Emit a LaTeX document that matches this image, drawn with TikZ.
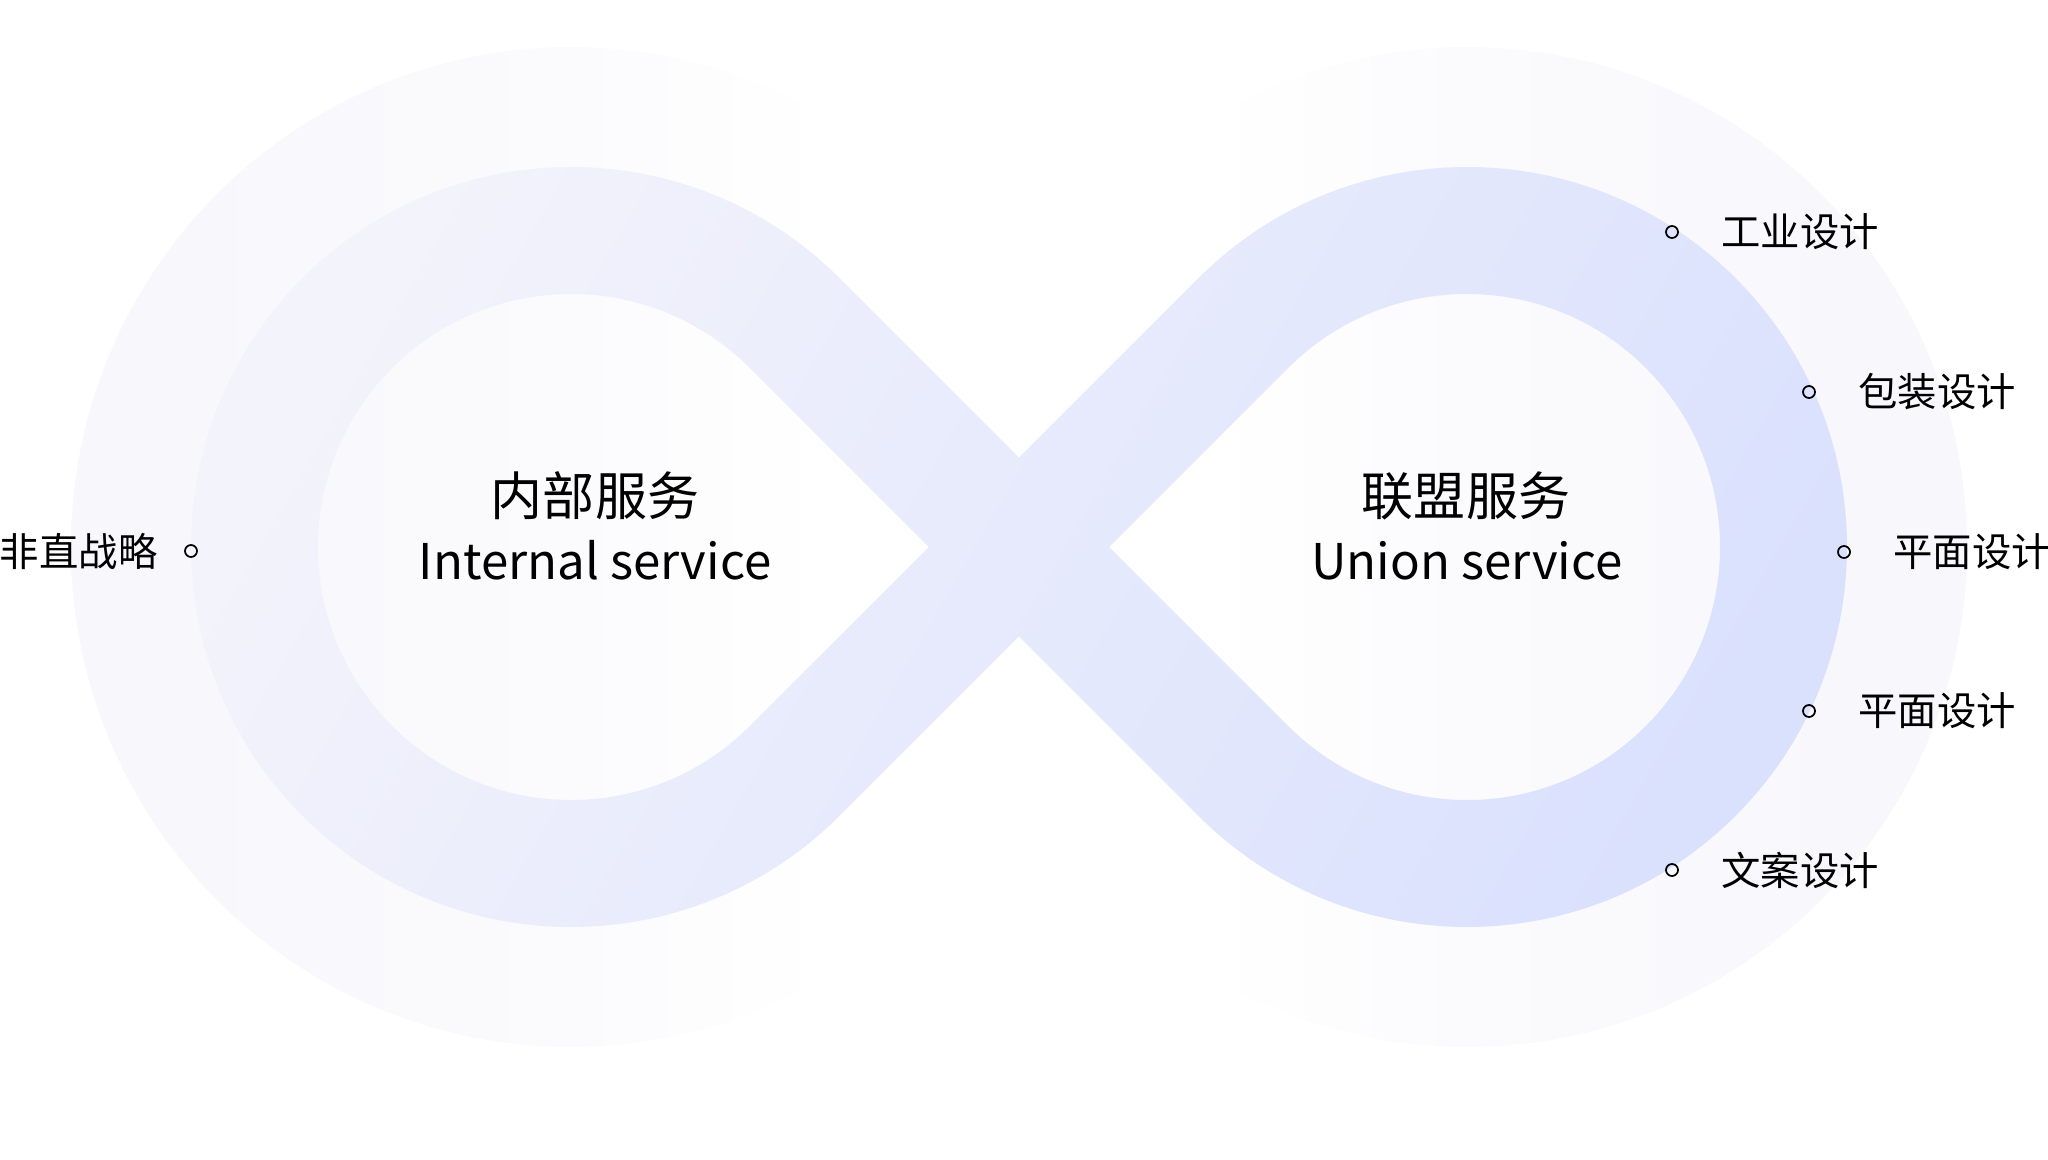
\documentclass[tikz,border=0pt]{standalone}
\usepackage{fontspec}
\setmainfont{Noto Sans CJK SC}
\usetikzlibrary{positioning,calc}
\definecolor{halotint}{HTML}{F7F7FC}
\definecolor{bandlight}{HTML}{F3F3FB}
\definecolor{banddark}{HTML}{DAE1FD}
\pgfdeclarehorizontalshading{halofadeleft}{100bp}{color(0bp)=(halotint); color(25bp)=(halotint); color(50bp)=(halotint!50!white); color(63bp)=(white); color(100bp)=(white)}
\pgfdeclarehorizontalshading{halofaderight}{100bp}{color(0bp)=(white); color(37bp)=(white); color(50bp)=(halotint!50!white); color(75bp)=(halotint); color(100bp)=(halotint)}
\tikzset{
	dot/.style={circle,draw=black,line width=0.5pt,inner sep=0pt,minimum size=0.12cm},
	itemtext/.style={font=\fontsize{11.2}{13}\selectfont,inner sep=0pt},
	titlecn/.style={font=\fontsize{14.8}{17}\selectfont,inner sep=0pt},
	titleen/.style={font=\fontsize{14}{17}\selectfont,inner sep=0pt,anchor=base}
}
\begin{document}
\begin{tikzpicture}
	\useasboundingbox (0,0) rectangle (20.48,11.59);
	\coordinate (L) at (5.71,6.12);
	\coordinate (R) at (14.67,6.12);
	\coordinate (X) at (10.19,6.12);
	\shade[shading=halofadeleft] (L) circle (5);
	\shade[shading=halofaderight] (R) circle (5);
	\shade[even odd rule,top color=bandlight,bottom color=banddark,shading angle=60]
		($(X)+(0,0.894)$) -- ($(L)+(45:3.8)$) arc[start angle=45,end angle=315,radius=3.8]
		-- ($(X)+(0,-0.894)$) -- ($(R)+(225:3.8)$) arc[start angle=225,end angle=495,radius=3.8] -- cycle
		($(L)+(45:2.53)$) arc[start angle=45,end angle=315,radius=2.53] -- ($(L)+(3.578,0)$) -- cycle
		($(R)+(135:2.53)$) arc[start angle=135,end angle=-135,radius=2.53] -- ($(R)+(-3.578,0)$) -- cycle;
	\node[titlecn] (incn) at (5.95,6.63) {内部服务};
	\node[titleen] (inen) at (5.95,5.80) {Internal service};
	\node[titlecn] (uncn) at (14.66,6.63) {联盟服务};
	\node[titleen] (unen) at (14.67,5.80) {Union service};
	\node[dot] (m0) at (1.91,6.08) {};
	\node[itemtext,left=0.26cm of m0] (t0) {非直战略};
	\foreach \i/\x/\y/\txt in {1/16.72/9.27/工业设计,2/18.09/7.67/包装设计,3/18.44/6.07/平面设计,4/18.09/4.48/平面设计,5/16.72/2.89/文案设计}{
		\node[dot] (m\i) at (\x,\y) {};
		\node[itemtext,right=0.42cm of m\i] (t\i) {\txt};
	}
\end{tikzpicture}
\end{document}
